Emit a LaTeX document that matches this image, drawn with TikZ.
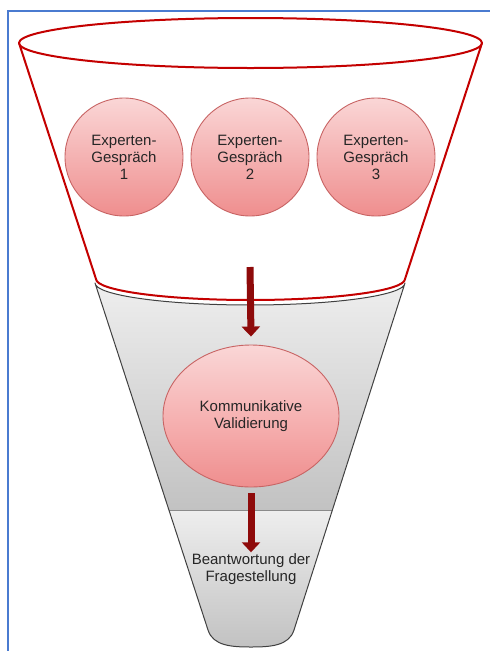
\documentclass[tikz,border=0pt]{standalone}
\usepackage{fontspec}
\setmainfont{Liberation Sans}
\usetikzlibrary{arrows.meta,shapes.geometric}

\definecolor{framecol}{HTML}{4A7BD0}
\definecolor{funnelred}{HTML}{C40000}
\definecolor{edgegray}{HTML}{404040}
\definecolor{seamgray}{HTML}{8A8A8A}
\definecolor{grayhi}{HTML}{EEEEEE}
\definecolor{graylo}{HTML}{C2C2C2}
\definecolor{pinkhi}{HTML}{FAD6D6}
\definecolor{pinkmid}{HTML}{F6B3B3}
\definecolor{pinklo}{HTML}{EF8E8E}
\definecolor{bubbleedge}{HTML}{C86464}
\definecolor{arrowred}{HTML}{8E0A0A}
\definecolor{textcol}{HTML}{262626}

\tikzset{
  frame/.style={draw=framecol, line width=2pt},
  rimline/.style={draw=funnelred, line width=2pt, line join=round},
  grayedge/.style={draw=edgegray, line width=1pt, line join=round},
  seam/.style={draw=seamgray, line width=0.8pt},
  label/.style={text=textcol, align=center, inner sep=0pt,
    font=\fontsize{15}{17}\selectfont},
  expert/.style={label, circle, minimum size=118pt, draw=bubbleedge,
    line width=0.9pt, top color=pinkhi, bottom color=pinklo},
  validate/.style={label, ellipse, minimum width=176pt, minimum height=142pt,
    draw=bubbleedge, line width=0.9pt, top color=pinkhi, bottom color=pinklo,
    middle color=pinkmid},
  bigarrow/.style={draw=arrowred, line width=7pt,
    -{Triangle[width=18pt,length=10pt]}}
}

\begin{document}
\begin{tikzpicture}[x=1pt,y=-1pt]
\useasboundingbox (0,0) rectangle (490,651);

% outer frame (top and left edges)
\draw[frame] (7.5,651) -- (7.5,10.5) -- (490,10.5);

% narrow gray part of the funnel: upper band
\path[top color=grayhi, bottom color=graylo]
  (95,283) arc[start angle=180, end angle=360, x radius=155pt, y radius=22pt]
  -- (332,510) -- (169,510) -- cycle;
% lower band
\path[top color=grayhi, bottom color=graylo]
  (169,510) -- (332,510) -- (294,630)
  .. controls (289,646) and (270,647) .. (251,647)
  .. controls (232,647) and (213,646) .. (208,630) -- cycle;
\draw[seam] (169,510) -- (332,510);
\draw[grayedge]
  (95,283) arc[start angle=180, end angle=360, x radius=155pt, y radius=22pt]
  -- (294,630)
  .. controls (289,646) and (270,647) .. (251,647)
  .. controls (232,647) and (213,646) .. (208,630) -- cycle;

% wide white part of the funnel
\path[fill=white]
  (19,43) -- (96,279)
  arc[start angle=180, end angle=360, x radius=154.5pt, y radius=21pt]
  -- (482,43) -- cycle;
\draw[rimline]
  (19,43) -- (96,279)
  arc[start angle=180, end angle=360, x radius=154.5pt, y radius=21pt]
  -- (482,43);
\draw[rimline, fill=white] (250.5,43) ellipse [x radius=231.5pt, y radius=25pt];

% contents
\node[expert] (e1) at (124,157) {Experten-\\Gespräch\\1};
\node[expert] (e2) at (250,157) {Experten-\\Gespräch\\2};
\node[expert] (e3) at (376,157) {Experten-\\Gespräch\\3};

\node[validate] (val) at (251,416) {Kommunikative\\Validierung};

\node[label] (ans) at (251,569) {Beantwortung der\\Fragestellung};

% flow arrows
\coordinate (a1) at (250,267);
\draw[bigarrow] (a1) -- ([yshift=8pt]val.north);
\draw[bigarrow] ([yshift=-6pt]val.south) -- ([yshift=1pt]ans.north);
\end{tikzpicture}
\end{document}
